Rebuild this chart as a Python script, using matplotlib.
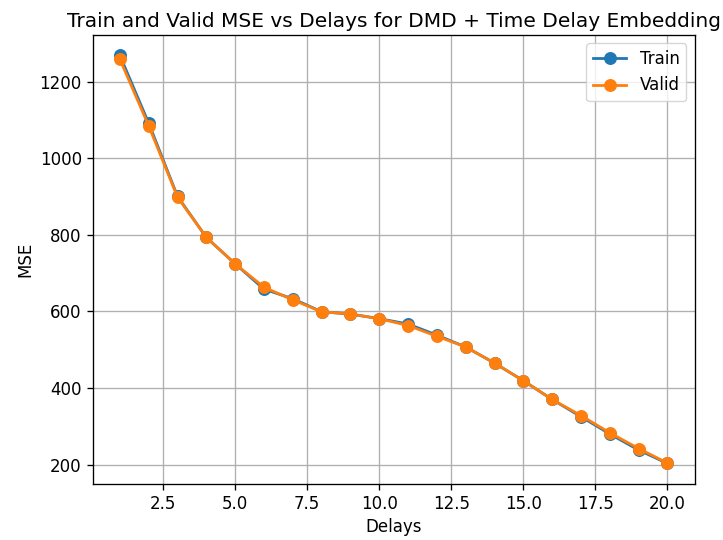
import matplotlib
matplotlib.use("Agg")
import matplotlib.pyplot as plt

delays = list(range(1, 21))
train_mse = [1268, 1091, 900, 793, 724, 658, 633, 599, 593, 581,
             567, 538, 507, 465, 419, 370, 325, 280, 238, 203]
valid_mse = [1258, 1084, 898, 793, 724, 663, 630, 599, 593, 581,
             563, 535, 507, 465, 419, 370, 328, 283, 242, 204]

scale = 1.2
plt.rcParams.update({
    "font.size": 10 * scale,
    "lines.linewidth": 2.0,
    "lines.markersize": 8.3,
    "axes.linewidth": 0.8 * scale,
    "xtick.major.width": 0.8 * scale,
    "ytick.major.width": 0.8 * scale,
    "xtick.major.size": 3.5 * scale,
    "ytick.major.size": 3.5 * scale,
    "grid.linewidth": 0.8 * scale,
})

fig, ax = plt.subplots(figsize=(7.23, 5.4), dpi=100)
fig.subplots_adjust(left=0.128, right=0.961, bottom=0.104, top=0.935)

ax.plot(delays, train_mse, marker="o", label="Train")
ax.plot(delays, valid_mse, marker="o", label="Valid")

ax.set_title("Train and Valid MSE vs Delays for DMD + Time Delay Embedding", fontsize=14.5)
ax.set_xlabel("Delays")
ax.set_ylabel("MSE")
ax.grid(True)
ax.legend()

fig.savefig("out.png")
